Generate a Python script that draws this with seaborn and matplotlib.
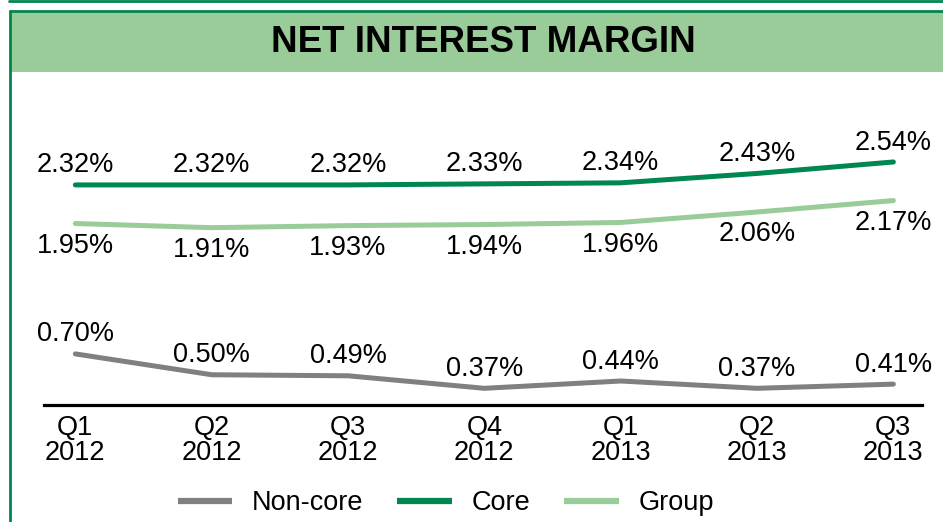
import matplotlib
matplotlib.use("Agg")
import matplotlib.pyplot as plt
from matplotlib.lines import Line2D
from matplotlib.patches import Rectangle
import seaborn as sns
import pandas as pd

quarters = ["Q1\n2012", "Q2\n2012", "Q3\n2012", "Q4\n2012", "Q1\n2013", "Q2\n2013", "Q3\n2013"]
non_core = [0.70, 0.50, 0.49, 0.37, 0.44, 0.37, 0.41]
core = [2.32, 2.32, 2.32, 2.33, 2.34, 2.43, 2.54]
group = [1.95, 1.91, 1.93, 1.94, 1.96, 2.06, 2.17]
series_names = ["Non-core", "Core", "Group"]
title = "NET INTEREST MARGIN"

DARK_GREEN = "#00864F"
LIGHT_GREEN = "#99CC99"
GREY = "#808080"
palette = {"Non-core": GREY, "Core": DARK_GREEN, "Group": LIGHT_GREEN}

df = pd.DataFrame({
    "Quarter": quarters * 3,
    "Series": ["Non-core"] * 7 + ["Core"] * 7 + ["Group"] * 7,
    "Value": non_core + core + group,
})

sns.set_theme(style="white")
plt.rcParams["font.family"] = ["Liberation Sans", "DejaVu Sans"]
plt.rcParams["text.color"] = "black"

W, H = 943, 522
fig = plt.figure(figsize=(W / 100, H / 100), dpi=100)
fig.patch.set_facecolor("white")

def fx(px):
    return px / W

def fy(py):
    return 1 - py / H

ax = fig.add_axes([fx(44), fy(405), fx(922) - fx(44), fy(90) - fy(405)])
ax.set_facecolor("none")

sns.lineplot(data=df, x="Quarter", y="Value", hue="Series", hue_order=series_names,
             palette=palette, linewidth=3.6, ax=ax, legend=False, sort=False,
             solid_capstyle="round")

ax.set_xlim(-0.23, 6.21)
ax.set_ylim(0.21, 3.23)
ax.set_xlabel("")
ax.set_ylabel("")
ax.set_yticks([])
for s in ["top", "left", "right"]:
    ax.spines[s].set_visible(False)
ax.spines["bottom"].set_color("black")
ax.spines["bottom"].set_linewidth(2.3)
ax.tick_params(axis="x", length=0, pad=7, labelsize=19.5, colors="black")
for lab in ax.get_xticklabels():
    lab.set_linespacing(0.97)
    lab.set_multialignment("center")

offsets = {"Non-core": 14, "Core": 14, "Group": -16}
for name, vals in zip(series_names, [non_core, core, group]):
    for i, v in enumerate(vals):
        ax.annotate(f"{v:.2f}%", xy=(i, v), xytext=(0, offsets[name]),
                    textcoords="offset points", ha="center", va="center",
                    fontsize=19.5, color="black")

# frame decorations
fig.add_artist(Line2D([fx(9), 1], [fy(1), fy(1)], transform=fig.transFigure,
                      color=DARK_GREEN, linewidth=2))
fig.add_artist(Rectangle((fx(10), fy(72)), 1 - fx(10), fy(11) - fy(72),
                         transform=fig.transFigure, facecolor=LIGHT_GREEN,
                         edgecolor="none"))
fig.add_artist(Line2D([fx(10), 1], [fy(11), fy(11)], transform=fig.transFigure,
                      color=DARK_GREEN, linewidth=2))
fig.add_artist(Line2D([fx(10), fx(10)], [fy(11), 0], transform=fig.transFigure,
                      color=DARK_GREEN, linewidth=2))

fig.text(fx(483), fy(43), title, ha="center", va="center",
         fontsize=26.5, fontweight="bold", color="black")

handles = [Line2D([0], [0], color=palette[n], linewidth=4.5, solid_capstyle="butt")
           for n in series_names]
fig.legend(handles, series_names, loc="center", bbox_to_anchor=(fx(446), fy(503)),
           ncol=3, frameon=False, fontsize=19.5, handlelength=2.0,
           handletextpad=0.75, columnspacing=1.25, borderaxespad=0, borderpad=0,
           labelcolor="black")

fig.savefig("out.png", dpi=100)
